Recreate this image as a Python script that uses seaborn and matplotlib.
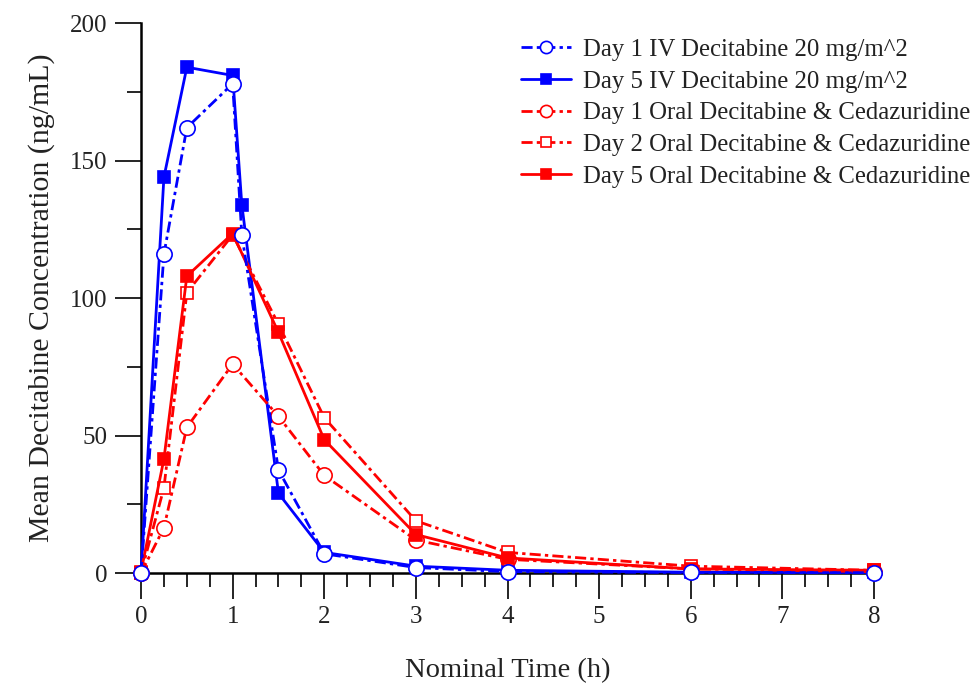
import numpy as np
import pandas as pd
import matplotlib
matplotlib.use("Agg")
import matplotlib.pyplot as plt
from matplotlib.ticker import MultipleLocator
import seaborn as sns

# sampling times (h)
iv_time = [0, 0.25, 0.5, 1, 1.1, 1.5, 2, 3, 4, 6, 8]
oral_time = [0, 0.25, 0.5, 1, 1.5, 2, 3, 4, 6, 8]

# mean concentrations (ng/mL)
iv_day1 = [0, 116, 162, 178, 123, 37.5, 7, 2, 0.5, 0.2, 0.1]
iv_day5 = [0, 144, 184, 181, 134, 29, 7.5, 2.5, 1, 0.3, 0.2]
oral_day1 = [0, 16.5, 53, 76, 57, 35.5, 12, 5, 1.5, 0.5]
oral_day2 = [0, 31, 102, 123, 90.5, 56.5, 19, 7.5, 2.5, 1]
oral_day5 = [0.5, 41.5, 108, 123.5, 87.5, 48.5, 14, 5.5, 1.5, 1]

labels = [
    "Day 1 IV Decitabine 20 mg/m^2",
    "Day 5 IV Decitabine 20 mg/m^2",
    "Day 1 Oral Decitabine & Cedazuridine",
    "Day 2 Oral Decitabine & Cedazuridine",
    "Day 5 Oral Decitabine & Cedazuridine",
]

BLUE = "#0000ff"
RED = "#ff0000"
DASHDOT = (0, (4, 1.5, 1.2, 1.5))

sns.set_theme(style="ticks")
plt.rcParams["font.family"] = ["Liberation Serif", "DejaVu Serif"]

fig = plt.figure(figsize=(9.76, 6.83), dpi=100)
ax = fig.add_axes([0.1445, 0.161, 0.751, 0.805])

series = [
    (iv_time, iv_day1, labels[0], BLUE, "o", False, 4),
    (iv_time, iv_day5, labels[1], BLUE, "s", True, 3),
    (oral_time, oral_day1, labels[2], RED, "o", False, 3),
    (oral_time, oral_day2, labels[3], RED, "s", False, 3),
    (oral_time, oral_day5, labels[4], RED, "s", True, 3),
]

for t, conc, lab, col, mk, filled, z in series:
    df = pd.DataFrame({"time": t, "conc": conc})
    sns.lineplot(
        data=df, x="time", y="conc", ax=ax, label=lab,
        color=col, marker=mk,
        linestyle="-" if filled else DASHDOT,
        linewidth=2.0,
        markersize=9 if mk == "s" else 11,
        markerfacecolor=col if filled else "white",
        markeredgecolor=col, markeredgewidth=1.2,
        clip_on=False, zorder=z,
    )

ax.set_xlim(0, 8)
ax.set_ylim(0, 200)
ax.xaxis.set_major_locator(MultipleLocator(1))
ax.xaxis.set_minor_locator(MultipleLocator(0.25))
ax.yaxis.set_major_locator(MultipleLocator(50))
ax.yaxis.set_minor_locator(MultipleLocator(25))

for side in ["top", "right"]:
    ax.spines[side].set_visible(False)
for side in ["left", "bottom"]:
    ax.spines[side].set_linewidth(1.8)
    ax.spines[side].set_color("black")

ax.tick_params(which="major", direction="out", length=19, width=1.2,
               labelsize=18, pad=5, colors="black")
ax.tick_params(which="minor", direction="out", length=10, width=1.2,
               colors="black")
for lbl in ax.get_xticklabels() + ax.get_yticklabels():
    lbl.set_color("#222222")

ax.set_xlabel("Nominal Time (h)", fontsize=20.5, color="#222222")
ax.xaxis.set_label_coords(0.5, -0.155)
ax.set_ylabel("Mean Decitabine Concentration (ng/mL)", fontsize=21.5,
              color="#222222")
ax.yaxis.set_label_coords(-0.118, 0.5)

leg = ax.legend(loc="upper right", bbox_to_anchor=(1.145, 0.99), frameon=False,
                fontsize=17.8, handlelength=2.0, labelspacing=0.38,
                handletextpad=0.5, borderaxespad=0, markerscale=0.8)
for txt in leg.get_texts():
    txt.set_color("#222222")

fig.savefig("out.png", dpi=100)
